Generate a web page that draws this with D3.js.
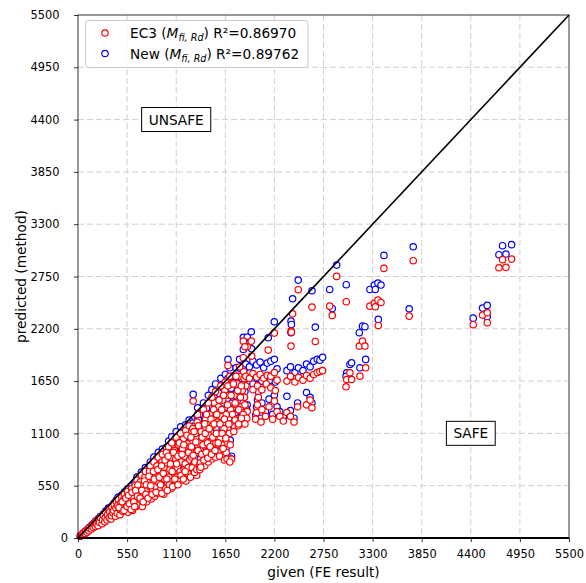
<!DOCTYPE html>
<html>
<head>
<meta charset="utf-8">
<script src="https://cdn.jsdelivr.net/npm/d3@7"></script>
<style>
body { margin: 0; background: #fff; }
text { font-family: "DejaVu Sans", sans-serif; fill: #000; }
</style>
</head>
<body>
<svg id="chart" width="586" height="583"></svg>
<script>
// each point: [given (FE), EC3 prediction, New prediction]
var nearOrigin = [
  [25,18,19],[40,30,31],[55,35,38],[60,50,52],[80,48,51],[85,70,73],[100,60,64],[110,88,92],[120,75,79],[125,105,110],
  [150,95,100],[155,130,136],[170,110,116],[180,150,157],[195,120,126],[200,175,182],[210,145,152],[225,130,137],[230,195,204],[240,165,173],[250,215,225],
  [270,150,158],[275,190,199],[285,240,251],[300,170,178],[305,215,226],[310,270,283],[325,190,199],[330,245,257],[340,300,315],[350,210,220],[355,275,288],
  [370,200,210],[375,235,246],[380,320,336],[390,265,278],[400,290,304],[405,350,367],[420,230,241],[425,315,330],[430,380,399],[440,260,273],[445,340,357],[450,410,430]
];
var coreLow = [
  [470,245,257],[475,300,315],[480,370,388],[490,430,452],[500,280,294],[505,335,352],[510,400,420],[520,460,483],[530,300,315],[540,360,378],[545,425,446],[555,490,515],[560,270,283],
  [580,320,336],[585,390,409],[590,450,473],[600,520,546],[610,290,305],[615,350,368],[620,420,441],[630,480,504],[640,550,578],[650,330,347],[655,390,410],[660,610,640],
  [680,360,378],[685,450,473],[690,520,546],[700,590,620],[705,400,420],[710,660,693],[720,330,347],[725,470,494],[735,560,588],[740,420,441],[750,640,672],[755,700,740],
  [770,380,399],[775,500,525],[780,600,630],[790,450,473],[800,700,735],[805,540,567],[810,760,800],[820,410,431],[825,640,672],[835,500,525],[840,580,609],[850,800,850]
];
var coreMid = [
  [860,440,462],[865,680,714],[870,540,567],[880,620,651],[885,760,798],[890,470,494],[900,850,900],[905,580,609],[915,700,735],[920,500,525],[930,650,683],[940,800,840],[945,880,935],[950,560,588],
  [960,460,483],[965,740,777],[970,620,651],[980,520,546],[985,680,714],[990,900,955],[1000,790,830],[1005,580,609],[1015,960,1020],[1020,640,672],[1030,720,756],[1040,850,893],[1045,520,546],[1050,1000,1065],
  [1060,600,630],[1065,780,819],[1075,680,714],[1080,920,966],[1090,560,588],[1095,830,872],[1100,1060,1120],[1110,640,672],[1115,740,777],[1125,980,1030],[1130,880,924],[1140,600,630],[1145,700,735],[1150,1100,1170],
  [1160,800,840],[1170,940,987],[1175,650,683],[1180,1040,1095],[1190,720,756],[1195,860,903],[1205,1130,1190],[1210,600,630],[1215,770,809],[1225,990,1040],[1230,680,714],[1240,900,945],[1245,1180,1240],[1250,820,861]
];
var coreHigh = [
  [1260,640,672],[1265,1060,1115],[1270,960,1008],[1280,740,777],[1290,1440,1510],[1290,870,914],[1300,1120,1176],[1305,690,725],[1310,800,840],[1320,1010,1060],[1330,720,756],[1340,1300,1370],[1345,920,966],[1350,1180,1240],
  [1360,760,800],[1365,720,760],[1370,790,830],[1375,745,785],
  [1385,880,924],[1390,1060,1113],[1400,980,1029],[1405,1350,1420],[1410,820,861],[1420,1200,1260],[1425,1100,1155],[1435,900,945],[1440,1300,1365],[1450,1000,1050],[1455,840,882],[1460,1420,1500],
  [1470,1150,1208],[1480,960,1008],[1490,1250,1313],[1495,880,924],[1500,1480,1560],[1510,1060,1113],[1520,1350,1418],[1525,1200,1260],[1535,920,966],[1540,1540,1620],[1550,1100,1155],[1555,1300,1365],
  [1570,1000,1050],[1580,1450,1523],[1585,860,903],[1590,1200,1260],[1600,1600,1680],[1610,1350,1418],[1615,1100,1155],[1625,940,987],[1630,1500,1575],[1640,1250,1313],[1650,1640,1720],[1655,1050,1103],[1640,820,860],
  [1670,830,870],[1675,1400,1470],[1680,1600,1680],[1690,1200,1260],[1700,1700,1790],[1705,980,1029],[1715,1500,1575],[1720,830,860],[1730,1300,1365],[1740,1620,1700],[1745,1120,1176],[1760,1420,1491],[1700,800,840],
  [1770,1700,1790],[1780,1250,1313],[1790,1550,1630],[1800,1350,1418],[1810,1800,1880],[1820,1480,1555],[1830,1600,1680],[1850,1300,1420],[1860,1680,1770],[1870,1400,1540],[1890,1260,1350],
  [1760,1240,1300],[1800,1200,1260],[1830,1260,1330],[1870,1200,1281],[1680,1815,1878]
];
var coreFill = [
  [460,320,336],[495,380,400],[515,290,305],[535,420,441],[550,330,347],[565,450,472],[575,360,378],[595,300,315],[605,480,505],[625,380,399],
  [635,330,347],[645,500,526],[665,440,462],[670,560,590],[695,420,441],[715,500,525],[730,380,399],[745,600,630],[760,460,483],[765,560,590],
  [785,420,441],[795,650,683],[815,550,578],[830,460,483],[845,700,740],[855,620,651],[875,480,504],[895,720,756],[910,640,672],[925,560,588],
  [935,760,800],[955,680,714],[975,820,862],[995,620,651],[1010,860,905],[1025,560,588],[1035,780,819],[1055,700,735],[1070,900,945],[1085,620,651],
  [1105,780,820],[1120,860,903],[1135,1000,1050],[1155,660,693],[1165,880,924],[1185,980,1030],[1200,780,819],[1220,1080,1134],[1235,740,777],[1255,960,1008],
  [1275,850,893],[1285,1150,1208],[1295,780,819],[1315,1100,1155],[1325,900,945],[1335,1220,1281],[1355,1000,1050],[1380,1120,1176],[1395,780,819],[1415,1040,1092],
  [1430,1250,1313],[1445,940,987],[1465,1080,1134],[1475,1300,1365],[1485,860,903],[1505,1180,1239],[1515,990,1040],[1530,1420,1491],[1545,1000,1050],[1560,1220,1281],
  [1575,1380,1450],[1595,1050,1103],[1605,1280,1344],[1620,1450,1523],[1635,1150,1208],[1645,1550,1628],[1660,1300,1365],[1665,1000,1050],[1685,1500,1575],[1695,1100,1155],
  [1710,1350,1418],[1725,1620,1700],[1735,1200,1260],[1750,1500,1575],[1755,1170,1230],[1775,1400,1470],[1785,1620,1700],[1795,1180,1240],[1815,1700,1785],[1825,1380,1450],
  [1840,1550,1628],[1855,1750,1838],[1865,1480,1554],[1880,1600,1680],[1895,1330,1400]
];
var lowerEdge = [
  [940,470,495],[1000,500,525],[1060,540,570],[1120,560,590],[1180,620,650],[1200,700,735],[1300,760,800],[1330,660,695],
  [1420,760,800],[1460,800,840],[1460,920,965],[1500,830,870],[1520,880,925],[1540,850,890],[1580,900,945],[1610,980,1030],[1620,870,910],[1660,900,950]
];
var upperRows = [
  [1852,2070,2110],[1896,2011,2113],[1941,2070,2169],[1852,1896,1983],[1870,2011,2060],[1945,1913,1990],[2131,1976,2106],
  [1880,1700,1830],[1920,1680,1800],[1960,1730,1860],[2000,1690,1820],[2040,1720,1850],[2080,1680,1790],[2120,1710,1840],[2160,1700,1860],[2200,1740,1880],[2230,1660,1780],
  [2340,1650,1760],[2380,1700,1800],[2430,1640,1740],[2470,1690,1790],[2520,1660,1760],[2560,1710,1830],[2600,1680,1800],[2640,1720,1860],[2680,1740,1880],[2710,1750,1870],[2740,1760,1900],
  [1960,1560,1620],[2010,1600,1680],[2060,1560,1650],[2110,1620,1700],[2160,1580,1660],[2210,1550,1640],
  [1990,1250,1290],[2000,1320,1380],[2010,1400,1450],[2020,1480,1540],[2050,1220,1260],[2060,1350,1420],[2100,1280,1330],[2140,1380,1460],[2180,1250,1300],[2200,1440,1500],[2230,1330,1380],
  [2260,1280,1330],[2300,1230,1270],[2340,1320,1490],[2380,1280,1340],[2420,1220,1260],[2460,1380,1420],[2560,1400,1530],[2600,1450,1480],[2620,1370,1420]
];
var outliers = [
  [2199,2155,2274],[2404,2358,2516],[2386,2176,2281],[2390,2165,2246],[2386,2018,2159],
  [2658,2067,2218],[2621,2428,2600],[2467,2611,2712],[2819,2438,2614],[2848,2341,2414],[2897,2751,2870],[3005,2485,2664],[3427,2835,2972],[3364,2235,2299],
  [3270,2438,2614],[3319,2467,2660],[3360,2502,2681],[3394,2477,2660],[3330,2432,2614],
  [3151,2018,2159],[3187,2070,2228],[3214,2018,2222],
  [3010,1667,1738],[3046,1738,1825],[3065,1667,1843],[3158,1702,1790],[3222,1790,1878],[3002,1590,1700],
  [3755,2916,3063],[3710,2333,2411],
  [4427,2243,2312],[4532,2344,2418],[4584,2369,2446],[4584,2264,2327],
  [4756,2927,3074],[4857,2933,3085],[4715,2842,2979],[4794,2846,2986]
];

var tickValues = [0,550,1100,1650,2200,2750,3300,3850,4400,4950,5500];
var seriesNames = ["EC3", "New"];
var seriesR2 = ["0.86970", "0.89762"];
var seriesColors = ["#ff0000", "#0000ff"];
var regionLabels = [{text: "UNSAFE", x: 1100, y: 4400}, {text: "SAFE", x: 4400, y: 1100}];

var points = [].concat(nearOrigin, coreLow, coreMid, coreFill, lowerEdge, coreHigh, upperRows, outliers);

var svg = d3.select("#chart");
var plotL = 78, plotR = 569, plotT = 15, plotB = 538;
var R = 3.2, SW = 1.2;

var x = d3.scaleLinear().domain([0, 5500]).range([plotL, plotR]);
var y = d3.scaleLinear().domain([0, 5500]).range([plotB, plotT]);

// grid
var grid = svg.append("g");
grid.selectAll(".gx").data(tickValues.slice(1, -1)).enter().append("line")
    .attr("x1", d => x(d)).attr("x2", d => x(d))
    .attr("y1", plotT).attr("y2", plotB)
    .attr("stroke", "#cfcfcf").attr("stroke-width", 1).attr("stroke-dasharray", "6,3");
grid.selectAll(".gy").data(tickValues.slice(1, -1)).enter().append("line")
    .attr("y1", d => y(d)).attr("y2", d => y(d))
    .attr("x1", plotL).attr("x2", plotR)
    .attr("stroke", "#cfcfcf").attr("stroke-width", 1).attr("stroke-dasharray", "6,3");

// points: New (blue) under EC3 (red)
svg.append("g").selectAll("circle").data(points).enter().append("circle")
    .attr("cx", d => x(d[0])).attr("cy", d => y(d[2])).attr("r", R)
    .attr("fill", "#fff").attr("stroke", seriesColors[1]).attr("stroke-width", SW);
svg.append("g").selectAll("circle").data(points).enter().append("circle")
    .attr("cx", d => x(d[0])).attr("cy", d => y(d[1])).attr("r", R)
    .attr("fill", "#fff").attr("stroke", seriesColors[0]).attr("stroke-width", SW);

// 1:1 line
svg.append("line")
    .attr("x1", x(0)).attr("y1", y(0)).attr("x2", x(5500)).attr("y2", y(5500))
    .attr("stroke", "#000").attr("stroke-width", 1.6);

// axes
var fmt = d3.format("d");
var xAxis = svg.append("g").attr("transform", "translate(0," + plotB + ")")
    .call(d3.axisBottom(x).tickValues(tickValues).tickFormat(fmt).tickSize(4).tickPadding(7.5));
var yAxis = svg.append("g").attr("transform", "translate(" + plotL + ",0)")
    .call(d3.axisLeft(y).tickValues(tickValues).tickFormat(fmt).tickSize(4).tickPadding(7));
[xAxis, yAxis].forEach(function(a) {
    a.select(".domain").remove();
    a.selectAll("text").attr("font-size", 11.4).attr("font-family", "DejaVu Sans");
    a.selectAll("line").attr("stroke", "#000").attr("stroke-width", 0.8);
});
yAxis.selectAll("text").attr("x", d => d === 0 ? -10 : -18.5);

// frame
svg.append("rect").attr("x", plotL).attr("y", plotT).attr("width", plotR - plotL).attr("height", plotB - plotT)
    .attr("fill", "none").attr("stroke", "#000").attr("stroke-width", 0.8);
svg.append("line").attr("x1", plotL).attr("x2", plotR).attr("y1", plotB).attr("y2", plotB)
    .attr("stroke", "#000").attr("stroke-width", 2);

// axis titles
svg.append("text").attr("x", (plotL + plotR) / 2).attr("y", 577).attr("text-anchor", "middle")
    .attr("font-size", 13.7).text("given (FE result)");
svg.append("text").attr("transform", "translate(26," + (plotT + plotB) / 2 + ") rotate(-90)")
    .attr("text-anchor", "middle").attr("font-size", 13.7).text("predicted (method)");

// region labels
regionLabels.forEach(function(r) {
    var g = svg.append("g").attr("transform", "translate(" + x(r.x) + "," + y(r.y) + ")");
    var t = g.append("text").attr("text-anchor", "middle").attr("dy", "0.36em").attr("font-size", 13.7).text(r.text);
    var bb = t.node().getBBox();
    g.insert("rect", "text").attr("x", bb.x - 7).attr("y", bb.y - 4).attr("width", bb.width + 14).attr("height", bb.height + 8)
        .attr("fill", "#fff").attr("stroke", "#000").attr("stroke-width", 1);
});

// legend
var lg = svg.append("g");
lg.append("rect").attr("x", 85.5).attr("y", 20.5).attr("width", 222.5).attr("height", 47).attr("rx", 3)
    .attr("fill", "#fff").attr("fill-opacity", 0.85).attr("stroke", "#ccc").attr("stroke-width", 1);
seriesNames.forEach(function(name, i) {
    var cy = 33 + i * 20.5;
    lg.append("circle").attr("cx", 105).attr("cy", cy).attr("r", R)
        .attr("fill", "#fff").attr("stroke", seriesColors[i]).attr("stroke-width", SW);
    var t = lg.append("text").attr("x", 130).attr("y", cy + 5).attr("font-size", 13.7);
    t.append("tspan").text(name + " (");
    t.append("tspan").attr("font-style", "italic").text("M");
    t.append("tspan").attr("font-style", "italic").attr("font-size", 9.6).attr("dy", 3).text("fi, Rd");
    t.append("tspan").attr("dy", -3).text(") R\u00b2=" + seriesR2[i]);
});
</script>
</body>
</html>
